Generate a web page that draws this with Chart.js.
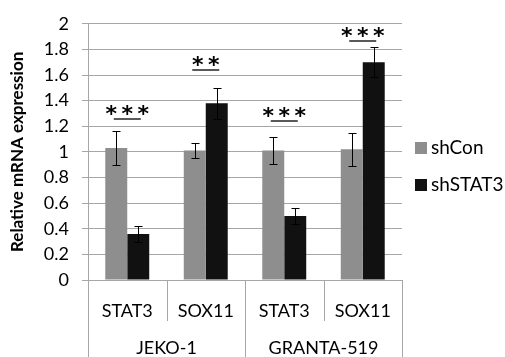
<!DOCTYPE html>
<html>
<head>
<meta charset="utf-8">
<script src="https://cdn.jsdelivr.net/npm/chart.js@4.4.1/dist/chart.umd.min.js"></script>
<style>
  html, body { margin: 0; padding: 0; background: #ffffff; }
  #wrap { width: 505px; height: 357px; }
</style>
</head>
<body>
<div id="wrap"><canvas id="chart" width="505" height="357"></canvas></div>
<script>
// Relative mRNA expression, two cell lines, two genes each
const categories = ['STAT3', 'SOX11', 'STAT3', 'SOX11'];
const groups = ['JEKO-1', 'GRANTA-519'];
const groupSizes = [2, 2];
const seriesNames = ['shCon', 'shSTAT3'];
const shConValues = [1.03, 1.01, 1.01, 1.02];
const shSTAT3Values = [0.36, 1.38, 0.50, 1.70];
const shConErrors = [0.13, 0.06, 0.105, 0.13];
const shSTAT3Errors = [0.06, 0.12, 0.065, 0.115];
const sigLabels = ['***', '**', '***', '***'];
const sigLevels = [1.26, 1.64, 1.24, 1.865];
const yTickLabels = ['0', '0.2', '0.4', '0.6', '0.8', '1', '1.2', '1.4', '1.6', '1.8', '2'];

const FONT = 'Lato';
const GRID = '#a6a6a6';
const seriesColors = ['#8e8e8e', '#111111'];
const seriesErrors = [shConErrors, shSTAT3Errors];

// Error bars: vertical whiskers with short caps, placed through the y scale
const errorBars = {
  id: 'errorBars',
  afterDatasetsDraw(chart) {
    const ctx = chart.ctx;
    const y = chart.scales.y;
    ctx.save();
    ctx.strokeStyle = '#000000';
    ctx.lineWidth = 1;
    chart.data.datasets.forEach((ds, di) => {
      const meta = chart.getDatasetMeta(di);
      meta.data.forEach((bar, i) => {
        const v = ds.data[i];
        const e = seriesErrors[di][i];
        const top = Math.round(y.getPixelForValue(v + e)) + 0.5;
        const bot = Math.round(y.getPixelForValue(v - e)) + 0.5;
        const x = Math.round(bar.x) + 0.5;
        ctx.beginPath();
        ctx.moveTo(x, top); ctx.lineTo(x, bot);
        ctx.moveTo(x - 4, top); ctx.lineTo(x + 4, top);
        ctx.moveTo(x - 4, bot); ctx.lineTo(x + 4, bot);
        ctx.stroke();
      });
    });
    ctx.restore();
  }
};

// Significance marks: stars over a short underline for each gene pair
const significance = {
  id: 'significance',
  afterDatasetsDraw(chart) {
    const ctx = chart.ctx;
    const x = chart.scales.x, y = chart.scales.y;
    ctx.save();
    sigLabels.forEach((label, i) => {
      const cx = x.getPixelForValue(i);
      const ly = Math.round(y.getPixelForValue(sigLevels[i]));
      ctx.strokeStyle = '#595959';
      ctx.lineWidth = 2;
      ctx.beginPath();
      ctx.moveTo(cx - 13.5, ly);
      ctx.lineTo(cx + 13.5, ly);
      ctx.stroke();
      ctx.fillStyle = '#000000';
      ctx.font = 'bold 22px "DejaVu Sans"';
      ctx.textAlign = 'center';
      ctx.textBaseline = 'alphabetic';
      const m = ctx.measureText('*');
      const mid = (m.actualBoundingBoxAscent - m.actualBoundingBoxDescent) / 2;
      const n = label.length;
      for (let k = 0; k < n; k++) {
        const sx = cx + (k - (n - 1) / 2) * 16;
        ctx.fillText(label[k], sx, ly - 9.5 + mid);
      }
    });
    ctx.restore();
  }
};

// Two-level category axis: dividers below the axis and the cell line names
const groupAxis = {
  id: 'groupAxis',
  afterDraw(chart) {
    const ctx = chart.ctx;
    const x = chart.scales.x;
    const n = categories.length;
    const step = (x.right - x.left) / n;
    const axisY = x.top;
    ctx.save();
    ctx.strokeStyle = GRID;
    ctx.lineWidth = 1;
    const outer = new Set([0]);
    let acc = 0;
    groupSizes.forEach(s => { acc += s; outer.add(acc); });
    for (let b = 0; b <= n; b++) {
      const bx = Math.round(x.left + b * step) + 0.5;
      const end = outer.has(b) ? chart.height : axisY + 41;
      ctx.beginPath();
      ctx.moveTo(bx, axisY);
      ctx.lineTo(bx, end);
      ctx.stroke();
    }
    ctx.fillStyle = '#000000';
    ctx.font = '18px ' + FONT;
    ctx.textAlign = 'center';
    ctx.textBaseline = 'middle';
    let start = 0;
    groups.forEach((g, gi) => {
      const gx = x.left + (start + groupSizes[gi] / 2) * step;
      ctx.fillText(g, gx, axisY + 68);
      start += groupSizes[gi];
    });
    ctx.restore();
  }
};

// Legend on the right: colour square followed by the series name
const sideLegend = {
  id: 'sideLegend',
  afterDraw(chart) {
    const ctx = chart.ctx;
    const area = chart.chartArea;
    const lx = area.right + 13;
    ctx.save();
    ctx.font = '19px ' + FONT;
    ctx.textAlign = 'left';
    ctx.textBaseline = 'middle';
    chart.data.datasets.forEach((ds, i) => {
      const cy = 148 + i * 37;
      ctx.fillStyle = ds.backgroundColor;
      ctx.fillRect(lx, cy - 6, 12, 12);
      ctx.fillStyle = '#000000';
      ctx.fillText(ds.label, lx + 16, cy);
    });
    ctx.restore();
  }
};

new Chart(document.getElementById('chart'), {
  type: 'bar',
  data: {
    labels: categories,
    datasets: [
      { label: seriesNames[0], data: shConValues, backgroundColor: seriesColors[0],
        categoryPercentage: 0.56, barPercentage: 1.0, borderWidth: 0 },
      { label: seriesNames[1], data: shSTAT3Values, backgroundColor: seriesColors[1],
        categoryPercentage: 0.56, barPercentage: 1.0, borderWidth: 0 }
    ]
  },
  options: {
    responsive: false,
    animation: false,
    devicePixelRatio: 1,
    layout: { padding: { top: 17, right: 103, bottom: 0, left: 0 } },
    plugins: { legend: { display: false }, tooltip: { enabled: false } },
    scales: {
      x: {
        grid: { display: false },
        border: { color: GRID },
        ticks: { color: '#000000', font: { family: FONT, size: 18 }, padding: 12,
                 maxRotation: 0, autoSkip: false },
        afterFit(s) { s.height = 77; }
      },
      y: {
        min: 0, max: 2,
        ticks: { stepSize: 0.2, color: '#000000', font: { family: FONT, size: 18 }, padding: 13,
                 callback: (v, i) => yTickLabels[i] },
        grid: { color: GRID, tickLength: 6 },
        border: { color: GRID },
        title: { display: true, text: 'Relative mRNA expression', color: '#000000',
                 font: { family: FONT, size: 17, weight: 'bold' }, padding: { top: 7, bottom: 0 } },
        afterFit(s) { s.width = 88; }
      }
    }
  },
  plugins: [errorBars, significance, groupAxis, sideLegend]
});
</script>
</body>
</html>
